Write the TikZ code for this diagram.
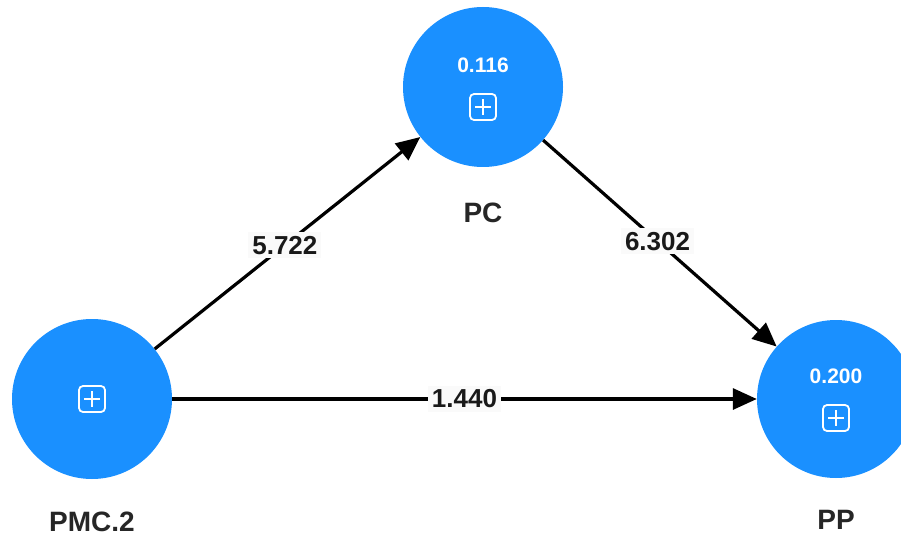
\documentclass[tikz,border=0pt]{standalone}
\usepackage{fontspec}
\setmainfont{Liberation Sans}
\usetikzlibrary{arrows.meta,calc}
\definecolor{nodeblue}{RGB}{26,144,255}
\tikzset{
  lv/.style={circle, fill=nodeblue, draw=none, minimum size=160pt, inner sep=0pt},
  lvname/.style={font=\fontsize{28}{30}\selectfont\bfseries, text=black!85},
  lvval/.style={font=\fontsize{21}{23}\selectfont\bfseries, text=white},
  pathline/.style={line width=3.2pt, -{Triangle[length=24pt,width=21pt]}},
  coef/.style={font=\fontsize{26}{28}\selectfont\bfseries, fill=black!2, inner sep=4pt, text=black!90},
}
\newcommand{\plusicon}[1]{%
  \draw[white, line width=1.8pt, rounded corners=4pt] ($(#1)+(-13,-13)$) rectangle ($(#1)+(13,13)$);
  \draw[white, line width=1.8pt] ($(#1)+(-8,0)$) -- ($(#1)+(8,0)$) ($(#1)+(0,-8)$) -- ($(#1)+(0,8)$);
}
\begin{document}
\begin{tikzpicture}[x=1pt,y=-1pt]
\useasboundingbox (0,0) rectangle (901,537);
\clip (0,0) rectangle (901,537);
\fill[white] (0,0) rectangle (901,537);
\node[lv] (pc) at (483,87) {};
\node[lv] (pmc) at (92,399) {};
\node[lv, minimum size=158pt] (pp) at (836,399) {};
\node[lvval] (pcval) at (483,65) {0.116};
\node[lvval] (ppval) at (836,376) {0.200};
\coordinate (pcicon) at (483,107);
\coordinate (pmcicon) at (92,399);
\coordinate (ppicon) at (836,418);
\plusicon{pcicon}
\plusicon{pmcicon}
\plusicon{ppicon}
\node[lvname] (pclab) at (483,213) {PC};
\node[lvname] (pmclab) at (92,522) {PMC.2};
\node[lvname] (pplab) at (836,520) {PP};
\draw[pathline] (pmc) -- node[coef, pos=0.49] (c1) {5.722} (pc);
\draw[pathline] (pc) -- node[coef, pos=0.49] (c2) {6.302} (pp);
\draw[pathline] (pmc) -- node[coef, pos=0.5] (c3) {1.440} (pp);
\end{tikzpicture}
\end{document}
